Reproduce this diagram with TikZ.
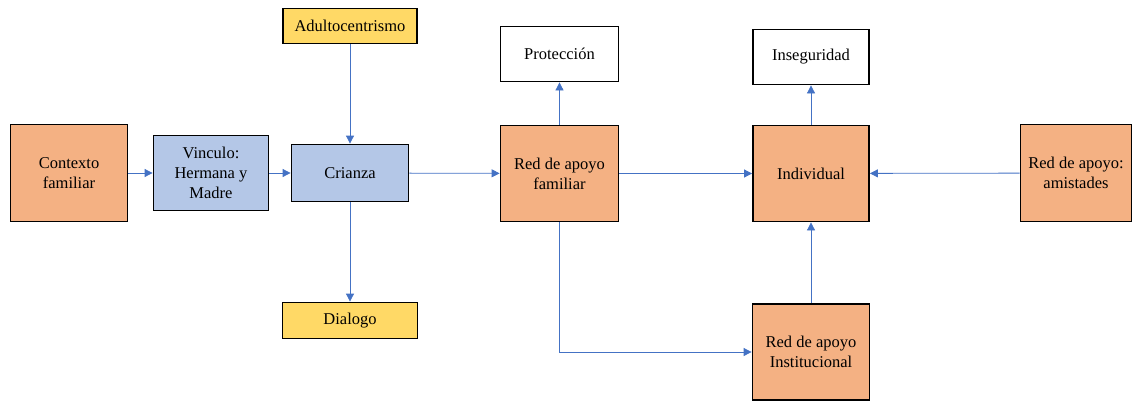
\documentclass[tikz,border=0pt]{standalone}
\usepackage{fontspec}
\setmainfont{Liberation Serif}
\newfontfamily\boxfont{Liberation Serif}
\usetikzlibrary{arrows.meta}
\definecolor{boxorange}{HTML}{F4B183}
\definecolor{boxblue}{HTML}{B4C7E7}
\definecolor{boxyellow}{HTML}{FFD966}
\definecolor{linkblue}{HTML}{4472C4}
\begin{document}
\begin{tikzpicture}[x=1pt,y=-1pt,
  every node/.style={font=\boxfont\fontsize{16.5}{20}\selectfont},
  box/.style={draw=black,line width=1.8pt,align=center,inner sep=2pt},
  orangebox/.style={box,fill=boxorange},
  bluebox/.style={box,fill=boxblue},
  yellowbox/.style={box,fill=boxyellow},
  whitebox/.style={box,fill=white},
  link/.style={draw=linkblue,line width=0.8pt,-{Triangle[length=8pt,width=8pt]}}]
\useasboundingbox (0,0) rectangle (1133,402);

% nodes
\node[orangebox,minimum width=117pt,minimum height=97pt] (ctx) at (69,173) {Contexto\\familiar};
\node[bluebox,minimum width=115pt,minimum height=75pt] (vin) at (211,173) {Vinculo:\\Hermana y\\Madre};
\node[bluebox,minimum width=117pt,minimum height=57pt] (cri) at (350,173) {Crianza};
\node[yellowbox,minimum width=134pt,minimum height=35pt] (adu) at (350,26) {Adultocentrismo};
\node[yellowbox,minimum width=135pt,minimum height=36pt] (dia) at (350,320.5) {Dialogo};
\node[orangebox,minimum width=118pt,minimum height=96pt] (fam) at (559.5,173.5) {Red de apoyo\\familiar};
\node[whitebox,minimum width=118pt,minimum height=55pt] (pro) at (559.5,54) {Protección};
\node[orangebox,minimum width=116pt,minimum height=96pt] (ind) at (811,173.5) {Individual};
\node[whitebox,minimum width=116pt,minimum height=55pt] (ins) at (811,57) {Inseguridad};
\node[orangebox,minimum width=111pt,minimum height=97pt] (ami) at (1076,173) {Red de apoyo:\\amistades};
\node[orangebox,minimum width=117pt,minimum height=96pt] (inst) at (811,352) {Red de apoyo\\Institucional};

% connectors
\draw[link] (ctx) -- (vin);
\draw[link] (vin) -- (cri);
\draw[link] (adu) -- (cri);
\draw[link] (cri) -- (dia);
\draw[link] (cri) -- (fam);
\draw[link] (fam) -- (pro);
\draw[link] (fam) -- (ind);
\draw[link] (ind) -- (ins);
\draw[link] (ami) -- (ind);
\draw[link] (inst) -- (ind);
\draw[link] (fam.south) |- (inst.west);
\end{tikzpicture}
\end{document}
